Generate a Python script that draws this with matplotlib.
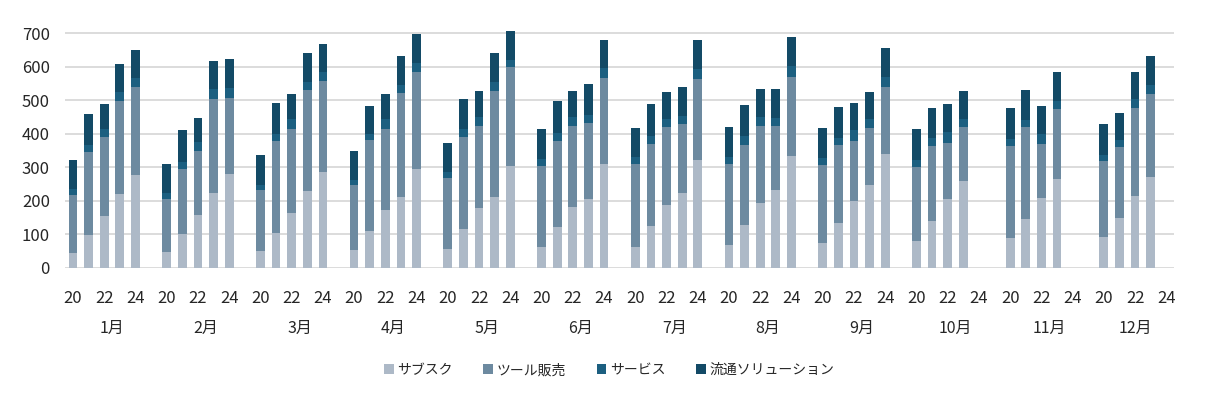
import numpy as np
import matplotlib
matplotlib.use("Agg")
import matplotlib.pyplot as plt
from matplotlib.transforms import blended_transform_factory

plt.rcParams["font.family"] = ["Noto Sans CJK JP", "DejaVu Sans"]

# ---- data ----
months = ["1月", "2月", "3月", "4月", "5月", "6月",
          "7月", "8月", "9月", "10月", "11月", "12月"]
years = ["20", "21", "22", "23", "24"]
series_names = ["サブスク", "ツール販売", "サービス", "流通ソリューション"]
n = np.nan

# one row per month, one column per year (20..24)
subsc = [[45, 97, 154, 220, 276], [46, 101, 158, 224, 281], [50, 104, 163, 229, 287],
         [53, 110, 171, 211, 295], [56, 117, 177, 211, 303], [61, 121, 182, 205, 310],
         [63, 125, 187, 224, 321], [67, 128, 193, 231, 334], [74, 134, 198, 247, 340],
         [81, 140, 205, 259, n], [88, 146, 209, 265, n], [92, 148, 213, 271, n]]
tool = [[172, 249, 236, 279, 265], [158, 194, 191, 280, 226], [182, 275, 252, 302, 271],
        [194, 272, 244, 311, 290], [211, 274, 246, 317, 297], [243, 258, 241, 227, 257],
        [247, 245, 233, 205, 243], [244, 239, 231, 193, 236], [233, 233, 181, 170, 200],
        [220, 225, 168, 162, n], [277, 274, 161, 209, n], [227, 213, 264, 248, n]]
service = [[17, 21, 24, 25, 25], [18, 20, 27, 29, 29], [15, 20, 29, 24, 27],
           [15, 19, 29, 24, 26], [20, 23, 26, 27, 20], [21, 24, 27, 24, 31],
           [20, 23, 24, 24, 30], [20, 26, 26, 24, 33], [21, 21, 32, 27, 30],
           [21, 23, 33, 24, n], [20, 21, 29, 25, n], [19, 21, 27, 27, n]]
distrib = [[87, 93, 74, 84, 86], [88, 97, 72, 85, 88], [90, 93, 75, 86, 85],
           [88, 82, 75, 87, 86], [86, 91, 78, 86, 88], [89, 96, 79, 92, 84],
           [88, 95, 82, 88, 86], [90, 92, 83, 85, 86], [89, 93, 82, 82, 86],
           [92, 90, 82, 84, n], [91, 89, 84, 87, n], [92, 80, 82, 88, n]]

colors = ["#adb9c7", "#6d8aa0", "#1c5f80", "#134a66"]

# ---- category slots: 5 years per month + one blank slot between months ----
slots = []
for m in range(len(months)):
    for y in range(len(years)):
        slots.append(m * 6 + y)
slots = np.array(slots)

data = [np.array(s, dtype=float).ravel() for s in (subsc, tool, service, distrib)]

fig = plt.figure(figsize=(12.18, 3.93), dpi=100)
ax = fig.add_axes([0.0535, 0.3188, 0.9105, 0.6062])

bottom = np.zeros(len(slots))
for vals, name, col in zip(data, series_names, colors):
    ok = ~np.isnan(vals)
    ax.bar(slots[ok], vals[ok], bottom=bottom[ok], width=0.56, color=col,
           label=name, zorder=3)
    bottom = bottom + np.nan_to_num(vals)

ax.set_xlim(-0.5, 70.5)
ax.set_ylim(0, 712)
ax.set_yticks(range(0, 701, 100))
ax.grid(axis="y", color="#d9d9d9", linewidth=1.3, zorder=0)
for sp in ax.spines.values():
    sp.set_visible(False)
ax.tick_params(axis="y", length=0, pad=11, labelsize=12, labelcolor="#262626")

# year labels: every other category (20, 22, 24)
xt = [m * 6 + y for m in range(len(months)) for y in (0, 2, 4)]
xl = [years[y] for m in range(len(months)) for y in (0, 2, 4)]
ax.set_xticks(xt)
ax.set_xticklabels(xl)
ax.tick_params(axis="x", length=0, pad=16, labelsize=12, labelcolor="#262626")

# month labels centred on each group
trans = blended_transform_factory(ax.transData, fig.transFigure)
for m, lab in enumerate(months):
    last = m * 6 + 5 if m < len(months) - 1 else m * 6 + 4
    ax.text((m * 6 + last) / 2, 0.165, lab, transform=trans, ha="center",
            va="center", fontsize=11.5, color="#262626")

fig.legend(loc="center", bbox_to_anchor=(0.5, 0.058), ncol=4, frameon=False,
           fontsize=10, handlelength=0.7, handleheight=0.7, handletextpad=0.25,
           columnspacing=2.2, labelcolor="#262626")

fig.savefig("out.png", dpi=100)
